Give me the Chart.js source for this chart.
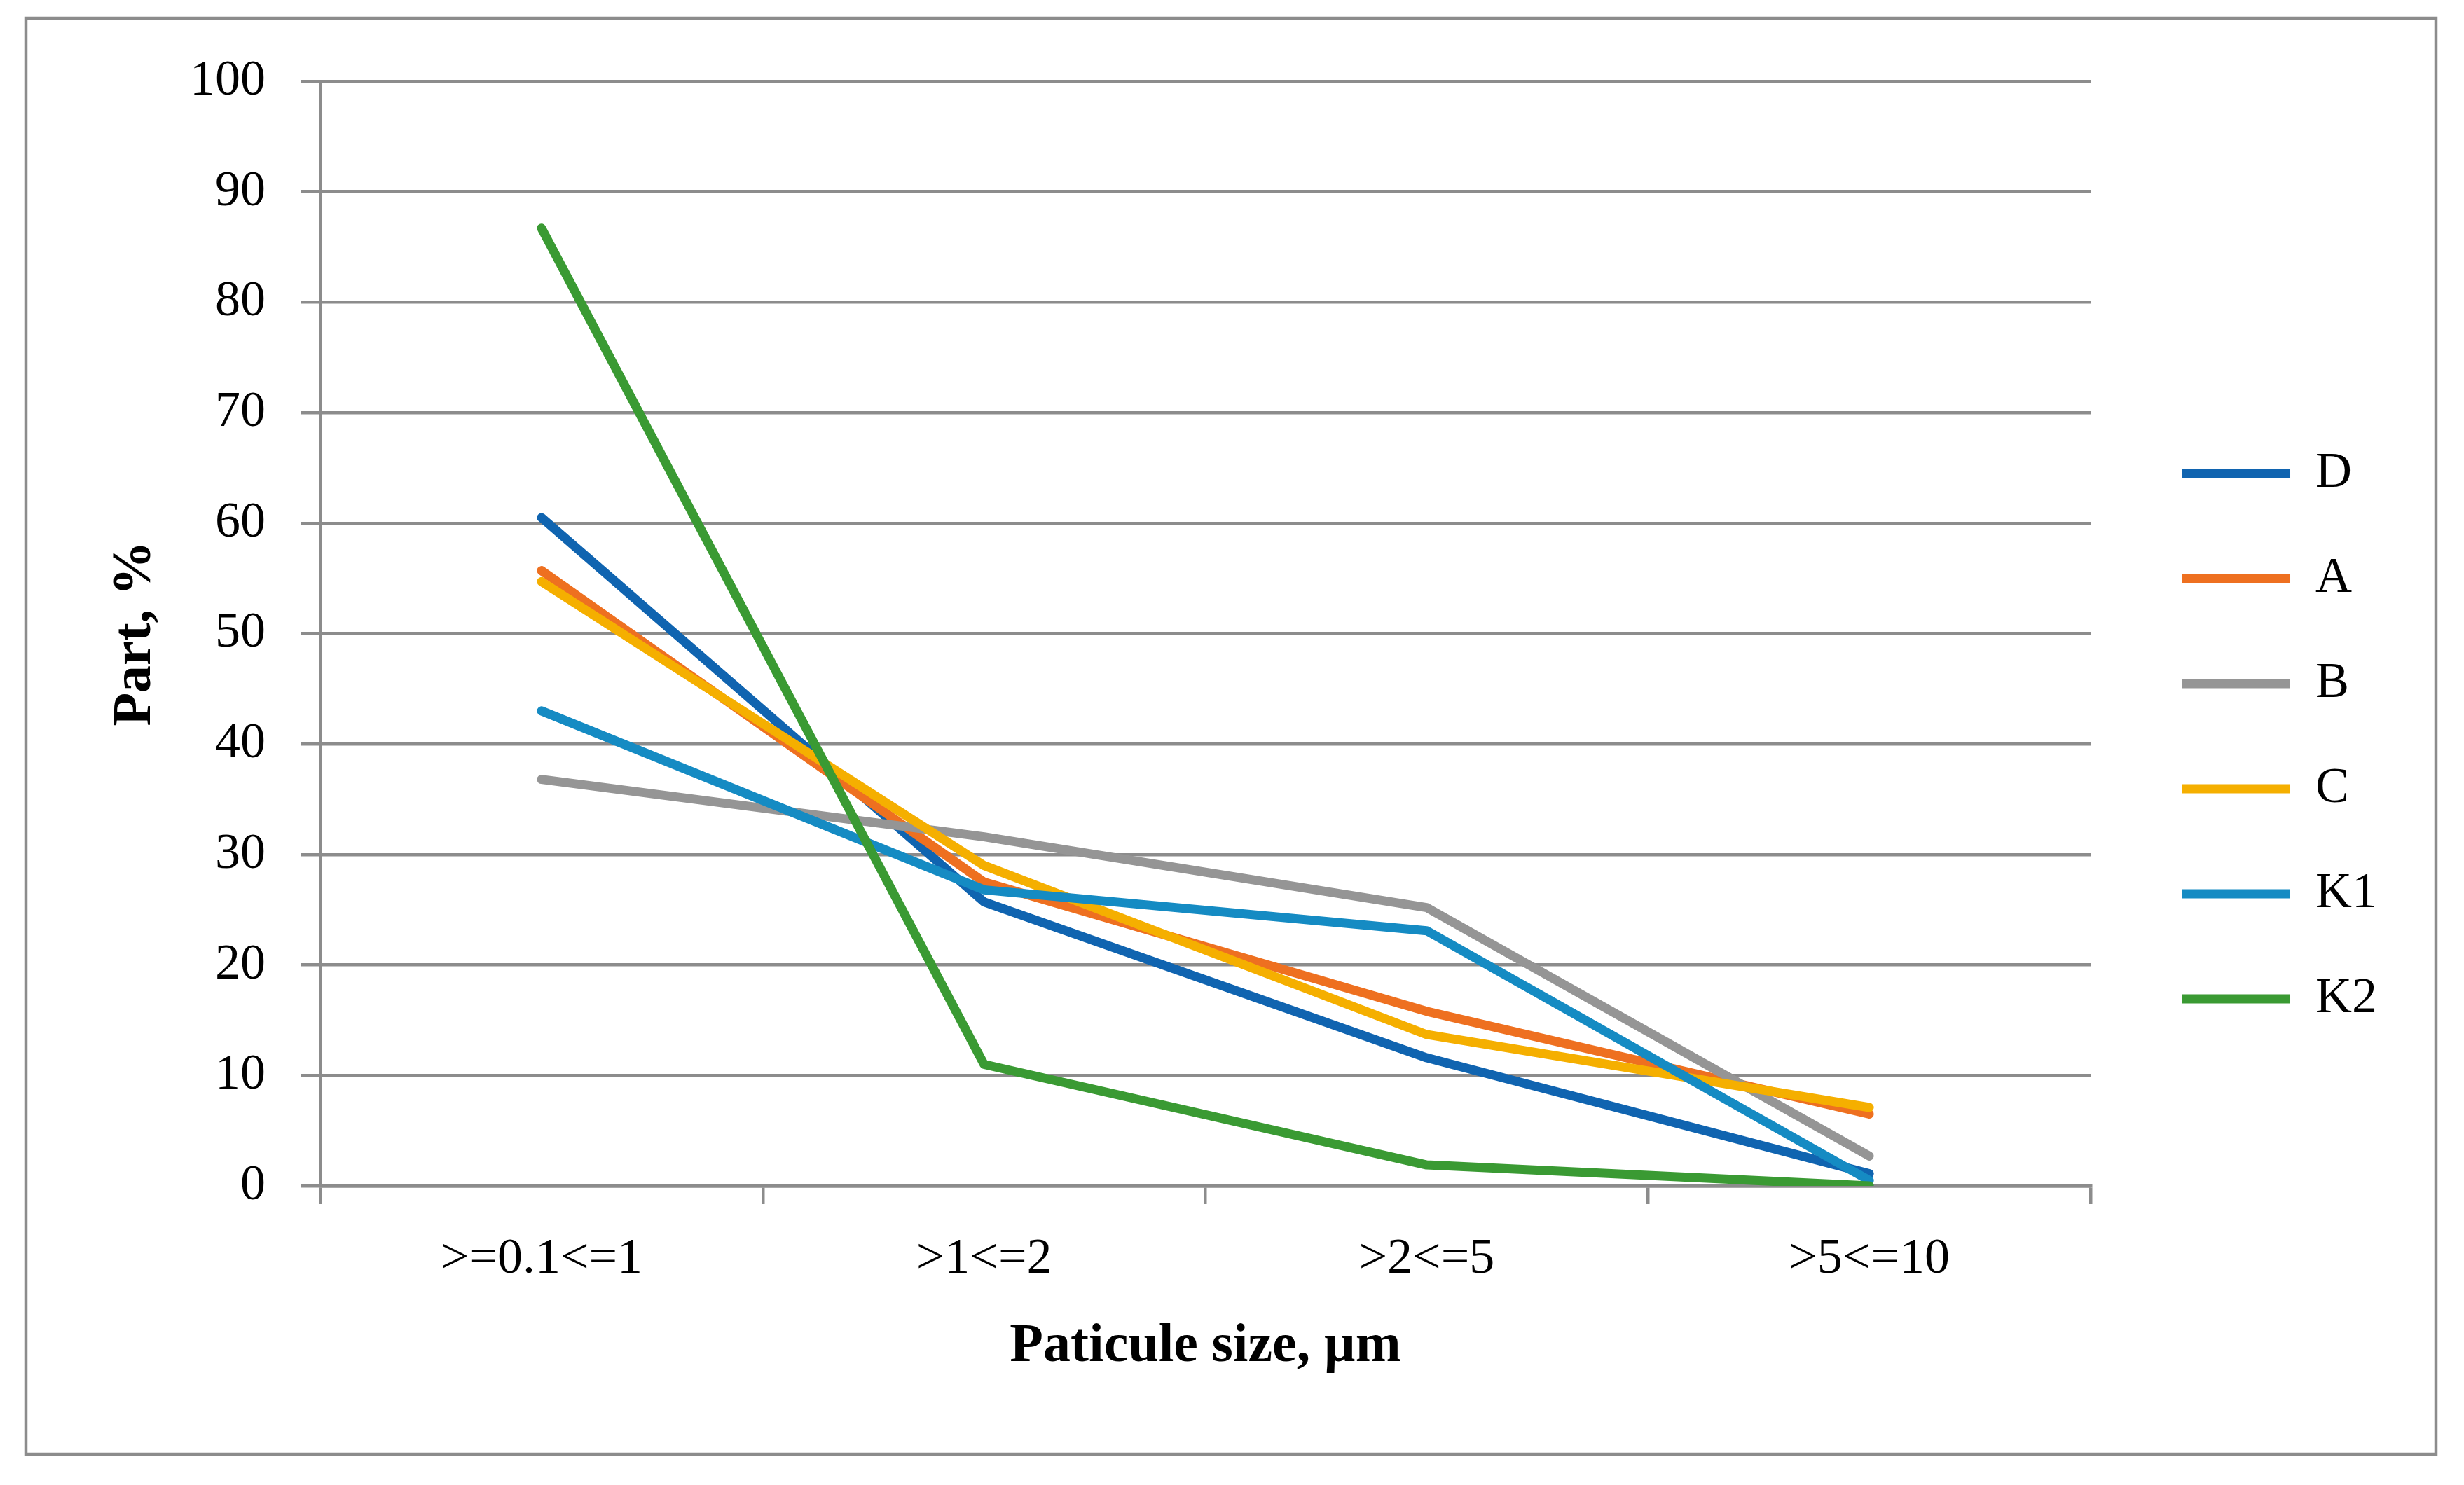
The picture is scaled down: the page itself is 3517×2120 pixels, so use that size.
<!DOCTYPE html>
<html>
<head>
<meta charset="utf-8">
<script src="https://cdn.jsdelivr.net/npm/chart.js@4.4.1/dist/chart.umd.min.js"></script>
<style>
  html, body { margin: 0; padding: 0; background: #ffffff; }
  #grafico { display: block; }
</style>
</head>
<body>
<canvas id="grafico" width="3517" height="2120"></canvas>
<script>
// --- DATOS DEL GRAFICO ---
const categorias = ['>=0.1<=1', '>1<=2', '>2<=5', '>5<=10'];
const serieD  = [60.5, 25.7, 11.6, 1.1];
const serieA  = [55.7, 27.5, 15.8, 6.5];
const serieB  = [36.8, 31.6, 25.2, 2.7];
const serieC  = [54.7, 29.0, 13.7, 7.1];
const serieK1 = [43.0, 26.8, 23.1, 0.5];
const serieK2 = [86.7, 11.0, 1.9, 0.0];
const nombresSeries = ['D', 'A', 'B', 'C', 'K1', 'K2'];
const ticksY = [0, 10, 20, 30, 40, 50, 60, 70, 80, 90, 100];

const colores = ['#1064b0', '#ee7020', '#959595', '#f5af00', '#158bc3', '#3a9a33'];
const gris = '#8c8c8c';
const fuente = "'Liberation Serif', 'Times New Roman', serif";

// marco exterior como en la figura original
const marco = {
    id: 'marco',
    beforeDraw(chart) {
        const ctx = chart.ctx;
        ctx.save();
        ctx.fillStyle = '#ffffff';
        ctx.fillRect(0, 0, chart.width, chart.height);
        ctx.strokeStyle = gris;
        ctx.lineWidth = 4.5;
        ctx.strokeRect(37, 26, 3440, 2050);
        ctx.restore();
    }
};

const valores = [serieD, serieA, serieB, serieC, serieK1, serieK2];
const datasets = valores.map((serie, i) => ({
    label: nombresSeries[i],
    data: serie,
    borderColor: colores[i],
    backgroundColor: colores[i],
    borderWidth: 13,
    borderCapStyle: 'round',
    borderJoinStyle: 'round',
    pointRadius: 0,
    pointHoverRadius: 0,
    tension: 0,
    fill: false,
    order: nombresSeries.length - i   // K2 queda encima
}));

Chart.defaults.font.family = fuente;
Chart.defaults.color = '#000000';

new Chart(document.getElementById('grafico'), {
    type: 'line',
    data: { labels: categorias, datasets: datasets },
    plugins: [marco],
    options: {
        responsive: false,
        animation: false,
        devicePixelRatio: 1,
        layout: { padding: { top: 116, bottom: 134, left: 37, right: 114 } },
        plugins: {
            tooltip: { enabled: false },
            legend: {
                position: 'right',
                labels: {
                    usePointStyle: true,
                    pointStyle: 'line',
                    pointStyleWidth: 155,
                    boxWidth: 155,
                    padding: 78,
                    color: '#000000',
                    font: { size: 72, family: fuente },
                    sort: (a, b) => a.datasetIndex - b.datasetIndex
                }
            }
        },
        scales: {
            x: {
                type: 'category',
                offset: true,
                grid: {
                    offset: true,
                    drawOnChartArea: false,
                    drawTicks: true,
                    tickLength: 26,
                    color: gris,
                    lineWidth: 4.5
                },
                border: { display: true, color: gris, width: 4.5 },
                ticks: {
                    padding: 36,
                    maxRotation: 0,
                    autoSkip: false,
                    color: '#000000',
                    font: { size: 72, family: fuente }
                },
                title: {
                    display: true,
                    text: 'Paticule size, µm',
                    color: '#000000',
                    font: { size: 78, weight: 'bold', family: fuente },
                    padding: { top: 0, bottom: 16 }
                },
                afterFit: (escala) => { escala.height = 293; }
            },
            y: {
                position: 'left',
                min: 0,
                max: 100,
                afterBuildTicks: (escala) => { escala.ticks = ticksY.map(v => ({ value: v })); },
                grid: {
                    drawTicks: true,
                    tickLength: 27,
                    color: gris,
                    lineWidth: 4.5
                },
                border: { display: true, color: gris, width: 4.5 },
                ticks: {
                    padding: 51,
                    color: '#000000',
                    font: { size: 72, family: fuente }
                },
                title: {
                    display: true,
                    text: 'Part, %',
                    color: '#000000',
                    font: { size: 78, weight: 'bold', family: fuente },
                    padding: { top: 110, bottom: 0 }
                },
                afterFit: (escala) => { escala.width = 420; }
            },
            // eje vacio: solo deja el hueco entre el area y la leyenda
            hueco: {
                position: 'right',
                display: true,
                grid: { display: false, drawTicks: false },
                border: { display: false },
                ticks: { display: false },
                afterFit: (escala) => { escala.width = 52; }
            }
        }
    }
});
</script>
</body>
</html>
